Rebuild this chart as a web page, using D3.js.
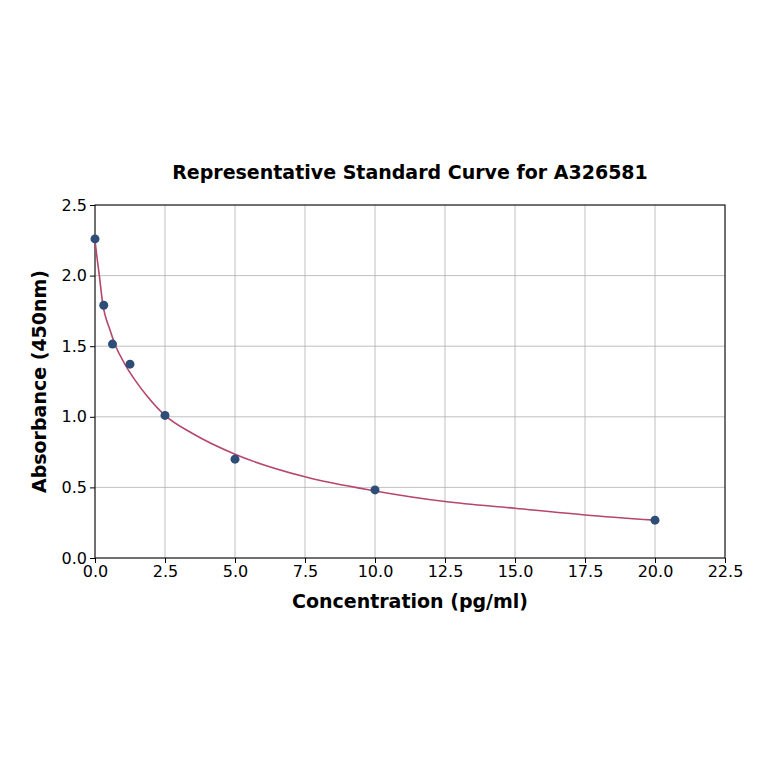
<!DOCTYPE html>
<html>
<head>
<meta charset="utf-8">
<script src="https://cdn.jsdelivr.net/npm/d3@7"></script>
<style>
    body { margin: 0; background: #fff; }
    text { font-family: "DejaVu Sans", sans-serif; }
</style>
</head>
<body>
<div id="chart"></div>
<script>
"use strict";

// Standards (concentration, absorbance)
let concentrations = [0, 0.3125, 0.625, 1.25, 2.5, 5, 10, 20];
let absorbances = [2.26, 1.79, 1.515, 1.373, 1.01, 0.70, 0.482, 0.268];

// Fitted curve
let curveX = [0, 0.07, 0.155, 0.27, 0.536, 0.74, 1.05, 1.43, 1.88, 2.5, 3.5, 5, 7.5, 10, 12.5, 15, 17.5, 20];
let curveY = [2.25, 2.13, 2.0, 1.81, 1.615, 1.5, 1.379, 1.26, 1.142, 1.01, 0.88, 0.735, 0.575, 0.475, 0.40, 0.352, 0.305, 0.268];

let xTicks = [0, 2.5, 5, 7.5, 10, 12.5, 15, 17.5, 20, 22.5];
let yTicks = [0, 0.5, 1.0, 1.5, 2.0, 2.5];

function draw() {
    let width = 764;
    let height = 764;
    let left = 95, right = 725, top = 205, bottom = 558;

    let svg = d3.select("#chart").append("svg")
        .attr("width", width).attr("height", height);

    let xScale = d3.scaleLinear().domain([0, 22.5]).range([left, right]);
    let yScale = d3.scaleLinear().domain([0, 2.5]).range([bottom, top]);

    // grid
    svg.append("g").selectAll("line").data(xTicks).enter().append("line")
        .attr("x1", d => xScale(d)).attr("x2", d => xScale(d))
        .attr("y1", top).attr("y2", bottom)
        .attr("stroke", "#b0b0b0").attr("stroke-width", 0.8);
    svg.append("g").selectAll("line").data(yTicks).enter().append("line")
        .attr("x1", left).attr("x2", right)
        .attr("y1", d => yScale(d)).attr("y2", d => yScale(d))
        .attr("stroke", "#b0b0b0").attr("stroke-width", 0.8);

    // axes
    let xAxis = svg.append("g").attr("transform", `translate(0,${bottom})`)
        .call(d3.axisBottom(xScale).tickValues(xTicks).tickFormat(d3.format(".1f"))
            .tickSize(5).tickPadding(3));
    let yAxis = svg.append("g").attr("transform", `translate(${left},0)`)
        .call(d3.axisLeft(yScale).tickValues(yTicks).tickFormat(d3.format(".1f"))
            .tickSize(5).tickPadding(3));
    [xAxis, yAxis].forEach(function (a) {
        a.selectAll("text").style("font-family", "DejaVu Sans").style("font-size", "16px").attr("fill", "#000");
        a.selectAll("line").attr("stroke", "#000");
        a.select(".domain").remove();
    });

    // frame
    svg.append("rect").attr("x", left).attr("y", top)
        .attr("width", right - left).attr("height", bottom - top)
        .attr("fill", "none").attr("stroke", "#000").attr("stroke-width", 1);

    // fitted curve
    let curveData = curveX.map((x, i) => [x, curveY[i]]);
    svg.append("path").datum(curveData)
        .attr("d", d3.line().x(d => xScale(d[0])).y(d => yScale(d[1])).curve(d3.curveMonotoneX))
        .attr("fill", "none").attr("stroke", "#b5476b").attr("stroke-width", 1.6);

    // points
    let points = concentrations.map((x, i) => [x, absorbances[i]]);
    svg.selectAll("circle").data(points).enter().append("circle")
        .attr("cx", d => xScale(d[0])).attr("cy", d => yScale(d[1]))
        .attr("r", 4.5).attr("fill", "#2e4e78");

    // title and labels
    svg.append("text").attr("x", (left + right) / 2).attr("y", 179)
        .attr("text-anchor", "middle").style("font-size", "19px").style("font-weight", "bold")
        .text("Representative Standard Curve for A326581");
    svg.append("text").attr("x", (left + right) / 2).attr("y", 608)
        .attr("text-anchor", "middle").style("font-size", "19px").style("font-weight", "bold")
        .text("Concentration (pg/ml)");
    svg.append("text").attr("transform", `translate(46,${(top + bottom) / 2}) rotate(-90)`)
        .attr("text-anchor", "middle").style("font-size", "19px").style("font-weight", "bold")
        .text("Absorbance (450nm)");
}

window.onload = draw;
</script>
</body>
</html>
